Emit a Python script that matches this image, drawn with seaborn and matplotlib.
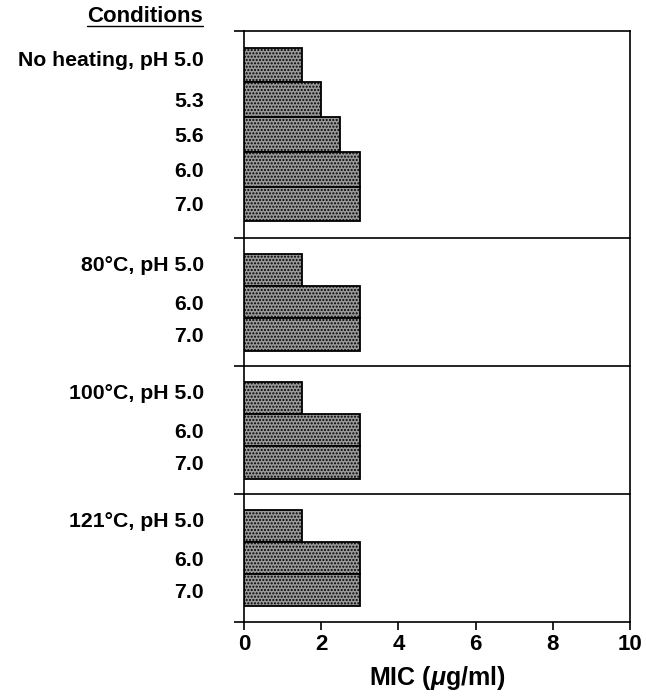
from matplotlib import pyplot as plt
from matplotlib import transforms
import seaborn as sns
import pandas as pd

# groups of conditions, top to bottom
group_names = ["No heating", "80°C", "100°C", "121°C"]
group_ph = [
    ["5.0", "5.3", "5.6", "6.0", "7.0"],
    ["5.0", "6.0", "7.0"],
    ["5.0", "6.0", "7.0"],
    ["5.0", "6.0", "7.0"],
]
group_mic = [
    [1.5, 2.0, 2.5, 3.0, 3.0],
    [1.5, 3.0, 3.0],
    [1.5, 3.0, 3.0],
    [1.5, 3.0, 3.0],
]
x_ticks = [0, 2, 4, 6, 8, 10]

sns.set_theme(style="white")
plt.rcParams['font.family'] = ['Liberation Sans', 'DejaVu Sans']
plt.rcParams['font.weight'] = 'bold'
plt.rcParams['text.color'] = 'black'
plt.rcParams['xtick.color'] = 'black'
plt.rcParams['ytick.color'] = 'black'
plt.rcParams['axes.labelcolor'] = 'black'
plt.rcParams['mathtext.fontset'] = 'custom'
plt.rcParams['mathtext.it'] = 'Liberation Sans:italic:bold'
plt.rcParams['mathtext.rm'] = 'Liberation Sans:bold'

# build row positions; first panel has slightly taller rows
frames = []
seps = [0.0]
y = 0.0
for i, name in enumerate(group_names):
    pitch = 1.074 if i == 0 else 1.0
    margin = 0.52 if i == 0 else 0.48
    y += margin
    rows = []
    for j, (ph, mic) in enumerate(zip(group_ph[i], group_mic[i])):
        label = "{}, pH {}".format(name, ph) if j == 0 else ph
        rows.append({"pos": y + pitch / 2, "mic": mic, "label": label, "first": j == 0})
        y += pitch
    y += margin
    seps.append(y)
    frames.append(pd.DataFrame(rows))
df = pd.concat(frames, ignore_index=True)

fig = plt.figure(figsize=(6.46, 6.98), dpi=100)
ax = fig.add_axes([0.3777, 0.1089, 0.5975, 0.8467])

for part in frames:
    sns.barplot(data=part, x="mic", y="pos", orient="y", native_scale=True,
                width=1.0, color="#999999", edgecolor="black", linewidth=1.3,
                saturation=1, ax=ax)
for p in ax.patches:
    p.set_hatch('.....')

ax.set_xlim(0, 10)
ax.set_ylim(seps[-1], seps[0])

for s in seps[1:-1]:
    ax.axhline(s, color="black", lw=1.2, clip_on=False)

# separators stick out as ticks on the left
ax.set_yticks(seps)
ax.set_yticklabels([])
ax.set_yticks(df["pos"], minor=True)
labels = ax.set_yticklabels(df["label"], minor=True, fontsize=15.3, fontweight="bold")
ax.tick_params(axis="y", which="major", left=True, length=7, width=1.2, direction="out")
ax.tick_params(axis="y", which="minor", left=False, length=0, pad=29)

# group header labels sit a bit higher than their bar
shift = transforms.ScaledTranslation(0, 0.065, fig.dpi_scale_trans)
for lab, first in zip(labels, df["first"]):
    if first:
        lab.set_transform(lab.get_transform() + shift)

ax.set_xticks(x_ticks)
ax.set_xticklabels([str(t) for t in x_ticks], fontsize=16, fontweight="bold")
ax.tick_params(axis="x", bottom=True, length=6, width=1.2, direction="out", pad=3)

for sp in ax.spines.values():
    sp.set_color("black")
    sp.set_linewidth(1.2)

ax.set_xlabel("MIC ($\\mathit{\\mu}$g/ml)", fontsize=18, fontweight="bold", labelpad=6)
ax.set_ylabel("")

# header
t = fig.text(203 / 646, 1 - 17 / 698, "Conditions", ha="right", va="center",
             fontsize=16, fontweight="bold")
fig.canvas.draw()
bb = t.get_window_extent().transformed(fig.transFigure.inverted())
fig.add_artist(plt.Line2D([bb.x0, bb.x1], [bb.y0 + 0.002, bb.y0 + 0.002],
                          color="black", lw=1, transform=fig.transFigure))

fig.savefig("out.png", dpi=100)
